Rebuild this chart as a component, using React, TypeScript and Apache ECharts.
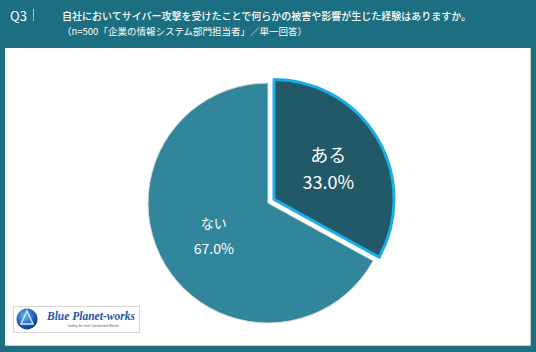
import React, { useEffect, useRef } from "react";
import * as echarts from "echarts";

const categories = ["ある", "ない"];
const values = [33.0, 67.0];
const sliceColors = ["#215968", "#31869b"];
const questionNo = "Q3";
const titleText = "自社においてサイバー攻撃を受けたことで何らかの被害や影響が生じた経験はありますか。";
const subtitleText = "（n=500「企業の情報システム部門担当者」／単一回答）";
const logoText = "Blue Planet-works";
const logoTagline = "Safety for the Connected World";

const FONT = '"Noto Sans CJK JP", "Noto Sans", sans-serif';

export default function App() {
  const ref = useRef<HTMLDivElement>(null);
  useEffect(() => {
    if (!ref.current) return;
    const chart = echarts.init(ref.current, null, { renderer: "svg" });
    const data = categories.map((name, i) => {
      const big = i === 0;
      return {
        name,
        value: values[i],
        selected: big,
        itemStyle: big
          ? { color: sliceColors[i], borderColor: "#1aaee6", borderWidth: 3 }
          : { color: sliceColors[i], borderColor: "#d8dcdd", borderWidth: 1 },
        label: big
          ? {
              rich: {
                n: { fontSize: 18, color: "#fff", fontFamily: FONT, lineHeight: 27 },
                v: { fontSize: 18, color: "#fff", fontFamily: FONT, lineHeight: 27 },
              },
            }
          : {
              rich: {
                n: { fontSize: 13, color: "#fff", fontFamily: FONT, lineHeight: 26 },
                v: { fontSize: 14, color: "#fff", fontFamily: FONT, lineHeight: 26 },
              },
            },
      };
    });
    chart.setOption({
      animation: false,
      backgroundColor: "#1b6f80",
      graphic: [
        {
          type: "rect",
          shape: { x: 5, y: 48, width: 526, height: 298 },
          style: { fill: "#c9cccd" },
        },
        {
          type: "rect",
          shape: { x: 5, y: 48, width: 525, height: 297 },
          style: { fill: "#ffffff" },
        },
        {
          type: "text",
          x: 10,
          y: 15,
          style: { text: questionNo, fill: "#fff", fontSize: 13, fontFamily: FONT, verticalAlign: "middle" },
        },
        {
          type: "line",
          shape: { x1: 33.5, y1: 9, x2: 33.5, y2: 21 },
          style: { stroke: "#9cc3cc", lineWidth: 1 },
        },
        {
          type: "text",
          x: 62,
          y: 15,
          style: { text: titleText, fill: "#fff", fontSize: 10, fontFamily: FONT, fontWeight: 500, verticalAlign: "middle" },
        },
        {
          type: "text",
          x: 62,
          y: 31,
          style: { text: subtitleText, fill: "#fff", fontSize: 9.5, fontFamily: FONT, verticalAlign: "middle" },
        },
        {
          type: "rect",
          shape: { x: 13.5, y: 306.5, width: 126, height: 26 },
          style: { fill: "#fff", stroke: "#d6d6d6", lineWidth: 1 },
        },
        {
          type: "circle",
          shape: { cx: 27, cy: 319, r: 10.5 },
          style: {
            fill: new echarts.graphic.RadialGradient(0.4, 0.35, 0.7, [
              { offset: 0, color: "#6fb6f0" },
              { offset: 0.6, color: "#1d63c4" },
              { offset: 1, color: "#0b2f7a" },
            ]),
          },
        },
        {
          type: "polygon",
          shape: { points: [[27, 311], [21, 324], [33, 324]] },
          style: { fill: "none", stroke: "#cfe6fb", lineWidth: 1.5 },
        },
        {
          type: "text",
          x: 47,
          y: 316,
          style: {
            text: logoText,
            fill: "#1f55a8",
            fontSize: 11.5,
            fontWeight: "bold",
            fontStyle: "italic",
            fontFamily: '"Liberation Serif", "DejaVu Serif", serif',
            verticalAlign: "middle",
          },
        },
        {
          type: "text",
          x: 93,
          y: 325.5,
          style: {
            text: logoTagline,
            fill: "#555",
            fontSize: 3.5,
            fontFamily: FONT,
            align: "center",
            verticalAlign: "middle",
          },
        },
      ],
      series: [
        {
          type: "pie",
          center: [268, 203],
          radius: 120,
          startAngle: 90,
          clockwise: true,
          selectedMode: "single",
          selectedOffset: 7,
          avoidLabelOverlap: false,
          label: {
            show: true,
            position: "inside",
            formatter: (p: any) => `{n|${p.name}}\n{v|${Number(p.value).toFixed(1)}%}`,
          },
          labelLine: { show: false },
          emphasis: { disabled: true },
          select: { disabled: false },
          data,
        },
      ],
    });
    return () => chart.dispose();
  }, []);
  return (
    <div
      ref={ref}
      style={{ position: "fixed", left: 0, top: 0, width: 536, height: 352 }}
    />
  );
}
